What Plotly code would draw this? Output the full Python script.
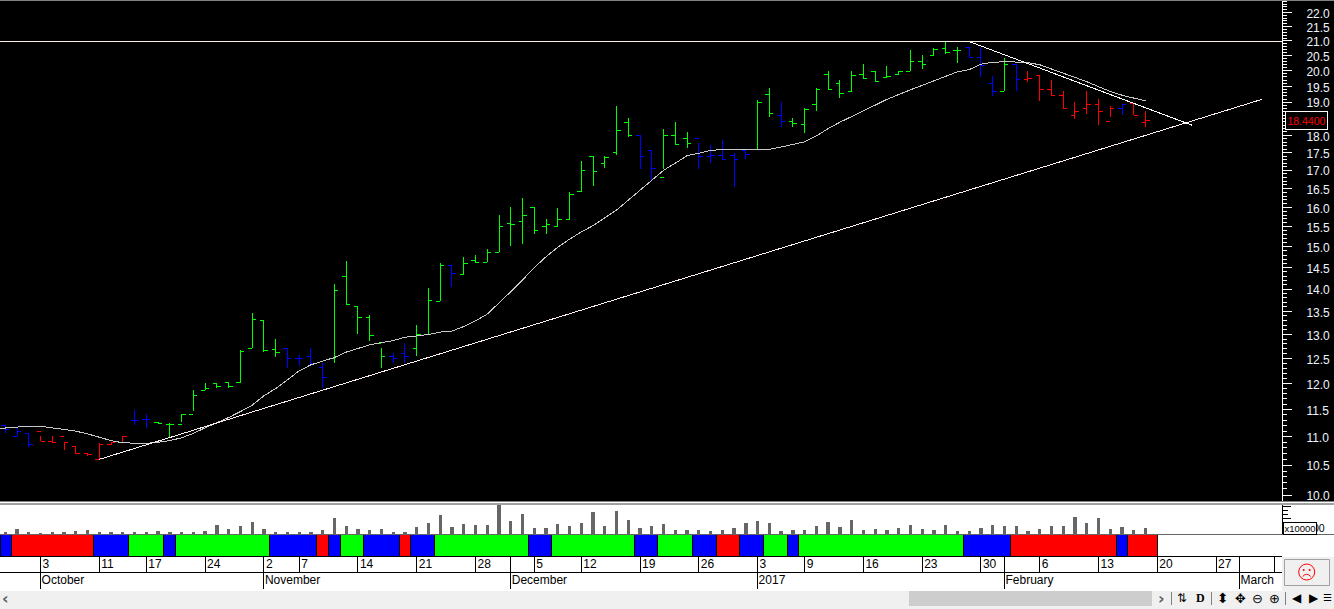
import math
import plotly.graph_objects as go

W, H = 1334, 609

high = [11.21,11.16,11.06,11.01,11.01,10.90,10.82,10.70,10.89,10.90,11.01,11.49,11.42,11.26,
11.25,11.41,11.87,12.00,12.00,12.02,12.68,13.46,13.30,12.90,12.71,12.58,12.71,12.40,
14.12,14.65,13.61,13.41,12.71,12.61,12.81,13.20,14.03,14.60,14.54,14.75,14.80,14.96,
15.79,16.00,16.24,16.00,15.69,15.98,16.40,17.25,17.39,17.39,18.87,18.51,18.00,17.56,
18.18,18.39,18.09,17.77,17.71,17.85,17.48,17.56,19.06,19.44,19.00,18.51,18.81,19.44,
19.98,19.69,19.98,20.21,19.98,20.15,19.98,20.68,20.51,20.75,20.95,20.78,20.78,20.78,
19.83,20.41,20.21,19.98,19.85,19.69,19.34,19.00,19.34,19.09,18.87,18.93,18.97,18.72]
low = [11.07,11.01,10.82,10.92,10.89,10.77,10.70,10.65,10.60,10.86,10.90,11.21,11.16,11.24,
10.98,11.27,11.48,11.87,11.92,11.92,12.01,12.71,12.63,12.52,12.31,12.35,12.37,11.92,
12.41,13.66,13.02,12.87,12.31,12.41,12.40,12.56,13.00,13.72,14.04,14.33,14.63,14.63,
14.87,15.03,15.08,15.33,15.33,15.51,15.69,16.41,16.58,17.07,17.42,17.94,17.03,16.72,
17.03,17.74,17.62,17.03,17.21,17.28,16.53,17.33,17.59,18.54,18.24,18.24,18.06,18.72,
19.37,19.12,19.34,19.72,19.63,19.79,19.85,19.98,20.05,20.51,20.55,20.25,20.45,19.79,
19.21,19.34,19.34,19.63,19.03,19.18,18.81,18.50,18.63,18.32,18.54,18.61,18.60,18.24]
open_ = [11.21,11.01,11.06,11.10,10.92,11.01,10.82,10.70,10.60,10.86,10.90,11.30,11.32,11.26,
11.23,11.22,11.41,11.87,12.00,12.02,12.01,12.71,13.30,12.68,12.71,12.50,12.54,12.31,
12.50,14.30,13.61,13.37,12.81,12.54,12.61,12.71,13.00,13.72,14.54,14.33,14.68,14.63,
14.87,15.58,15.64,16.00,15.51,15.51,15.69,16.41,17.39,17.19,17.51,18.39,18.00,17.56,
16.81,18.00,17.91,17.91,17.39,17.42,17.42,17.56,17.59,19.25,18.60,18.42,18.33,18.93,
19.89,19.60,19.34,19.89,19.98,19.79,19.89,19.98,20.31,20.51,20.75,20.68,20.78,20.45,
19.60,19.34,20.21,19.72,19.85,19.40,19.22,18.60,18.81,18.93,18.42,18.81,18.97,18.39]
close = [11.13,11.10,10.86,10.92,10.89,10.90,10.70,10.68,10.86,10.90,11.01,11.30,11.32,11.24,
11.23,11.41,11.77,11.90,11.94,11.94,12.65,13.33,12.67,12.63,12.50,12.50,12.39,12.12,
13.97,13.66,13.37,12.97,12.54,12.50,12.54,13.00,13.75,14.54,14.36,14.60,14.63,14.87,
15.50,15.56,15.79,15.40,15.56,15.69,16.35,17.00,16.97,17.36,18.15,18.00,17.38,17.05,
18.00,17.74,17.77,17.39,17.42,17.31,17.31,17.45,19.00,18.66,18.42,18.36,18.78,19.40,
19.40,19.28,19.85,19.76,19.66,19.82,19.98,20.31,20.21,20.72,20.61,20.68,20.45,20.18,
19.34,20.21,19.72,19.76,19.40,19.22,18.81,18.72,18.93,18.72,18.81,18.93,18.60,18.44]
moving_avg = [11.16,11.18,11.19,11.19,11.16,11.13,11.10,11.05,10.99,10.93,10.89,10.88,10.88,10.90,
10.93,10.98,11.06,11.16,11.25,11.35,11.46,11.58,11.76,11.90,12.07,12.25,12.37,12.45,
12.52,12.63,12.70,12.78,12.83,12.87,12.94,12.97,13.00,13.05,13.07,13.17,13.29,13.44,
13.68,13.94,14.21,14.50,14.76,14.99,15.19,15.37,15.53,15.72,15.93,16.19,16.46,16.72,
17.00,17.20,17.41,17.48,17.56,17.59,17.59,17.59,17.59,17.59,17.66,17.74,17.81,17.98,
18.20,18.39,18.57,18.73,18.91,19.09,19.25,19.39,19.53,19.68,19.81,19.97,20.04,20.22,
20.28,20.30,20.29,20.27,20.20,20.06,19.92,19.79,19.65,19.49,19.34,19.22,19.12,19.04]
ma_before_first = 11.14
volume = [6,16,6,4,6,6,9,13,6,6,6,6,6,9,6,6,6,9,27,16,24,36,15,6,6,6,6,12,48,24,15,12,15,6,6,21,33,57,
21,30,27,27,88,39,60,18,18,30,24,33,66,24,69,42,18,24,30,12,12,12,9,12,18,33,39,33,9,12,12,24,36,21,42,12,15,12,18,
27,15,12,27,9,9,18,27,24,24,9,15,24,24,51,33,48,15,21,12,18]
bar_state = list("BBB" "RRRRRRRR" "BB" "GGGGGGGGGGG" "BBBB" "GGGGG" "BB" "GGG" "B" "GGGGGGGGGGGGGGG" "BB"
                 "GGG" "BBBBB" "GG" "B" "GGGGGGGGGGGGGGG" "BBB" "G" "B" "RRRRRRRR" "B" "RR")
state_run_start = [-0.4,0.5,7.5,10.5,13.5,14.5,22.5,26.5,27.5,28.5,30.5,33.5,34.5,36.5,44.5,46.5,53.5,55.5,58.5,60.5,62.5,64.5,66.5,67.5,81.5,85.5,94.5,95.5]
state_run_end = [0.5,7.5,10.5,13.5,14.5,22.5,26.5,27.5,28.5,30.5,33.5,34.5,36.5,44.5,46.5,53.5,55.5,58.5,60.5,62.5,64.5,66.5,67.5,81.5,85.5,94.5,95.5,98]
state_run_kind = list("BRBGBGBRBGBRBGBGBGBRBGBGBRBR")
support_x = [8, 106.9]
support_y = [10.60, 19.09]
resist_x = [82, 100.95]
resist_y = [20.98, 18.30]
level_y = 20.98
last_price = 18.44
price_ticks = [10,10.5,11,11.5,12,12.5,13,13.5,14,14.5,15,15.5,16,16.5,17,17.5,18,18.5,19,19.5,20,20.5,21,21.5,22]
price_labels = ["10.0","10.5","11.0","11.5","12.0","12.5","13.0","13.5","14.0","14.5","15.0","15.5","16.0","16.5","17.0","17.5","18.0","","19.0","19.5","20.0","20.5","21.0","21.5","22.0"]
day_ticks = [3,8,12,17,22,25,30,35,40,45,49,54,59,64,68,73,78,83,88,93,98,103,108]
day_labels = ["3","11","17","24","2","7","14","21","28","5","12","19","26","3","9","16","23","30","6","13","20","27","6"]
month_ticks = [3,22,43,64,85,105]
month_labels = ["October","November","December","2017","February","March"]

COL = {"G": "#00ff00", "B": "#0000ff", "R": "#ff0000"}
FONT = "Liberation Sans"
def px(x): return x / W
def py(y): return 1 - y / H

x_range = [-0.45, 108.61]
x_all = list(range(len(high)))
fig = go.Figure()
for k in "GBR":
    idx = [i for i in x_all if bar_state[i] == k]
    line = dict(line=dict(color=COL[k], width=1))
    fig.add_trace(go.Ohlc(x=idx, open=[open_[i] for i in idx], high=[high[i] for i in idx],
                          low=[low[i] for i in idx], close=[close[i] for i in idx],
                          increasing=line, decreasing=line, tickwidth=0.34, hoverinfo="skip", showlegend=False))
fig.add_trace(go.Scatter(x=[-1] + x_all, y=[ma_before_first] + moving_avg, mode="lines", line=dict(color="#c8c8c8", width=1), hoverinfo="skip", showlegend=False))
fig.add_trace(go.Scatter(x=support_x, y=support_y, mode="lines", line=dict(color="#fff0f0", width=1), hoverinfo="skip", showlegend=False))
fig.add_trace(go.Scatter(x=resist_x, y=resist_y, mode="lines", line=dict(color="#ffffff", width=1), hoverinfo="skip", showlegend=False))
fig.add_trace(go.Scatter(x=x_range, y=[level_y, level_y], mode="lines", line=dict(color="#fff0e8", width=1), hoverinfo="skip", showlegend=False))
fig.add_trace(go.Bar(x=x_all, y=volume, width=0.28, marker=dict(color="#666666", line=dict(width=0)), xaxis="x2", yaxis="y2", hoverinfo="skip", showlegend=False))
fig.add_trace(go.Bar(orientation="h", y=[0]*len(state_run_start), base=state_run_start,
                     x=[e - s for s, e in zip(state_run_start, state_run_end)], width=1,
                     marker=dict(color=[COL[k] for k in state_run_kind], line=dict(color="black", width=1)),
                     xaxis="x3", yaxis="y3", hoverinfo="skip", showlegend=False))
fig.add_trace(go.Scatter(x=[0], y=[0], mode="none", xaxis="x4", yaxis="y4", hoverinfo="skip", showlegend=False))
fig.add_trace(go.Scatter(x=[0], y=[0], mode="none", xaxis="x5", yaxis="y5", hoverinfo="skip", showlegend=False))

xdom = [0, px(1282)]
hidden_x = dict(domain=xdom, range=x_range, visible=False, fixedrange=True)
minor_vals = [v / 10 for v in range(99, 225) if v % 5 != 0]
layout = dict(
    width=W, height=H, margin=dict(l=0, r=0, t=0, b=0, autoexpand=False), autosize=False,
    paper_bgcolor="white", plot_bgcolor="rgba(0,0,0,0)", barmode="overlay", showlegend=False, dragmode=False,
    xaxis=dict(hidden_x, rangeslider=dict(visible=False), anchor="y"),
    yaxis=dict(domain=[py(501), py(1)], type="log", range=[0.99574, 1.35060], side="right", anchor="x",
               showgrid=False, zeroline=False, showline=True, linecolor="white", linewidth=1,
               ticks="outside", ticklen=9, tickcolor="white", tickwidth=1,
               tickmode="array", tickvals=price_ticks, ticktext=price_labels,
               ticklabelstandoff=12, ticklabelshift=1, tickfont=dict(family=FONT, size=12, color="#eef4ff"),
               minor=dict(ticks="outside", ticklen=4, tickcolor="white", tickwidth=1, tickmode="array", tickvals=minor_vals, showgrid=False),
               fixedrange=True),
    xaxis2=dict(hidden_x, anchor="y2", matches="x"),
    yaxis2=dict(domain=[py(534), py(505)], range=[0, 87], side="right", anchor="x2", showgrid=False, zeroline=False,
                showline=True, linecolor="black", linewidth=1, ticks="outside", ticklen=8, tickcolor="black",
                tickmode="array", tickvals=[12, 47, 82], ticktext=["", "", ""],
                minor=dict(ticks="outside", ticklen=5, tickcolor="black", tickmode="array", tickvals=[24, 35, 59, 70], showgrid=False),
                fixedrange=True),
    xaxis3=dict(hidden_x, anchor="y3", matches="x"),
    yaxis3=dict(domain=[py(556.5), py(534.5)], range=[-0.5, 0.5], visible=False, anchor="x3", fixedrange=True),
    xaxis4=dict(domain=xdom, range=x_range, matches="x", anchor="y4", side="top", showgrid=False, zeroline=False,
                showline=True, linecolor="black", linewidth=1, ticks="inside", ticklen=16, tickcolor="black",
                tickmode="array", tickvals=day_ticks, ticktext=day_labels, ticklabelposition="inside right", ticklabelshift=1,
                tickfont=dict(family=FONT, size=12, color="black"),
                minor=dict(ticks="inside", ticklen=16, tickcolor="black", tickmode="array", tickvals=month_ticks, showgrid=False),
                fixedrange=True),
    yaxis4=dict(domain=[py(572.5), py(556.5)], range=[0, 1], visible=False, anchor="x4", fixedrange=True),
    xaxis5=dict(domain=xdom, range=x_range, matches="x", anchor="y5", side="top", showgrid=False, zeroline=False,
                showline=True, linecolor="black", linewidth=1, ticks="inside", ticklen=16, tickcolor="black",
                tickmode="array", tickvals=month_ticks, ticktext=month_labels, ticklabelposition="inside right",
                tickfont=dict(family=FONT, size=12, color="black"), fixedrange=True),
    yaxis5=dict(domain=[py(588.5), py(572.5)], range=[0, 1], visible=False, anchor="x5", fixedrange=True),
)
fig.update_layout(**layout)

def rect(x0, y0, x1, y1, fill, line=None, layer="above"):
    fig.add_shape(type="rect", xref="paper", yref="paper", x0=px(x0), x1=px(x1), y0=py(y0), y1=py(y1),
                  fillcolor=fill, line=dict(color=line or fill, width=1 if line else 0), layer=layer)
def hline(y, x0, x1, color):
    fig.add_shape(type="line", xref="paper", yref="paper", x0=px(x0), x1=px(x1), y0=py(y), y1=py(y), line=dict(color=color, width=1), layer="above")
def vline(x, y0, y1, color):
    fig.add_shape(type="line", xref="paper", yref="paper", x0=px(x), x1=px(x), y0=py(y0), y1=py(y1), line=dict(color=color, width=1), layer="above")

# black price panel including the strip right of the axis
rect(0, 0, W, 501.5, "black", layer="below")
hline(0.5, 0, W, "#808080")
rect(0, 503, W, 505, "#a0a0a0")
# lower right panel and bottom bar
hline(534.5, 0, W, "#666666")
rect(1282, 557, W, 591, "#f0f0f0")
rect(1284.5, 559.5, 1329.5, 585.5, "#f0f0f0", "#a0a0a0")
rect(0, 591, W, H, "#f0f0f0")
rect(909, 591, 1152, 606, "#cdcdcd")
for x in (1171.5, 1211.5, 1285.5):
    vline(x, 592, 605, "#808080")
# sad face
cx, cy = 1306.7, 572
fig.add_shape(type="circle", xref="paper", yref="paper", x0=px(cx-8), x1=px(cx+8), y0=py(cy+8), y1=py(cy-8), line=dict(color="#ff0000", width=1), layer="above")
for dx in (-3, 3):
    fig.add_shape(type="circle", xref="paper", yref="paper", x0=px(cx+dx-1), x1=px(cx+dx+1), y0=py(cy-1), y1=py(cy-3), fillcolor="#ff0000", line=dict(color="#ff0000", width=0), layer="above")
fig.add_shape(type="path", xref="paper", yref="paper",
              path=f"M {px(cx-4)},{py(cy+4.5)} Q {px(cx)},{py(cy)} {px(cx+4)},{py(cy+4.5)}", line=dict(color="#ff0000", width=1), layer="above")

def note(x, y, text, color="black", size=12, family=FONT, xanchor="center", yanchor="middle"):
    fig.add_annotation(x=px(x), y=py(y), xref="paper", yref="paper", text=text, showarrow=False, xanchor=xanchor, yanchor=yanchor,
                       font=dict(family=family, size=size, color=color))
# last-price box
fig.add_annotation(x=px(1306.2), y=math.log10(last_price), xref="paper", yref="y", xanchor="center", yanchor="middle", text=f"{last_price:.4f}", showarrow=False,
                   font=dict(family=FONT, size=10.5, color="#ff0000"), bgcolor="black", bordercolor="white", borderwidth=1, borderpad=1,
                   width=39, height=15)
# volume multiplier
note(1327, 527.5, "00", xanchor="right", size=10.5)
fig.add_annotation(x=px(1300), y=py(528), xref="paper", yref="paper", xanchor="center", yanchor="middle", text="x10000", showarrow=False,
                   font=dict(family=FONT, size=9.5, color="black"), bgcolor="white", bordercolor="black", borderwidth=1, borderpad=0,
                   width=32, height=11)
# toolbar
DJ = "DejaVu Sans"
note(6, 598, "<b>‹</b>", color="#606060", size=16, family=DJ)
note(1161, 598, "<b>›</b>", color="#606060", size=16, family=DJ)
note(1182, 598, "⇅", size=12, family=DJ)
note(1200, 598, "<b>D</b>", size=12, family="Liberation Serif")
note(1223, 598, "⬍", size=14, family=DJ)
note(1240.5, 598, "✥", size=13, family=DJ)
note(1257, 598, "⊖", size=13, family=DJ)
note(1274, 598, "⊕", size=13, family=DJ)
note(1296.5, 598, "◀", size=12, family=DJ)
note(1314, 598, "▶", size=12, family=DJ)
note(1327.5, 597, "☰", size=10, family=DJ)

crisp = ("document.querySelectorAll('.ohlc path,.scatterlayer .js-line,.barlayer path')"
         ".forEach(function(e){e.style.shapeRendering='crispEdges';});")
fig.write_html("out.html", config={"displayModeBar": False, "staticPlot": True},
               post_script="document.body.style.margin='0';document.body.style.overflow='hidden';" + crisp)
